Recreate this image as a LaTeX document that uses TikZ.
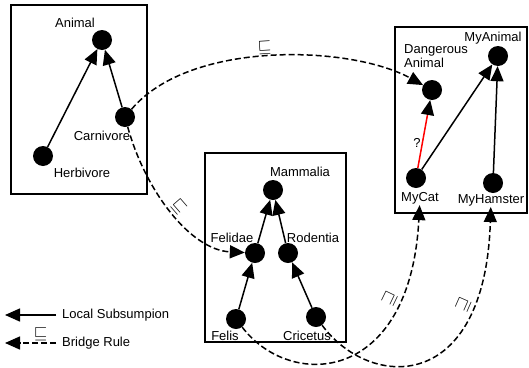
\documentclass[tikz,border=0pt]{standalone}
\usepackage{fontspec}
\setmainfont{Liberation Sans}
\usetikzlibrary{arrows.meta}
\begin{document}
\begin{tikzpicture}[x=1pt,y=-1pt,
  dot/.style={circle,fill=black,minimum size=20pt,inner sep=0pt},
  lbl/.style={inner sep=1pt,font=\fontsize{13}{13.5}\selectfont},
  sym/.style={inner sep=1.5pt,font=\fontsize{16}{16}\selectfont},
  sub/.style={line width=1.5pt,-{Triangle[length=15pt,width=13pt]}},
  bridge/.style={line width=1.5pt,dash pattern=on 6pt off 3pt,-{Triangle[length=15pt,width=13pt]}},
  boxframe/.style={draw,line width=2pt}]
\useasboundingbox (0,0) rectangle (529,367);
% boxes
\draw[boxframe] (11,5) rectangle (147,194);
\draw[boxframe] (205,153) rectangle (346,342);
\draw[boxframe] (395,27) rectangle (527,213);
% box 1
\node[dot] (animal) at (102,40) {};
\node[lbl] (animall) at (75,23) {Animal};
\node[dot] (carn) at (125,117) {};
\node[lbl] (carnl) at (102,136) {Carnivore};
\node[dot] (herb) at (43,156) {};
\node[lbl] (herbl) at (82,173) {Herbivore};
% box 2
\node[dot] (mamm) at (273,190) {};
\node[lbl] (mamml) at (300,172) {Mammalia};
\node[dot] (feli) at (255,253) {};
\node[lbl] (felil) at (232,238) {Felidae};
\node[dot] (rode) at (288,253) {};
\node[lbl] (rodel) at (313,238) {Rodentia};
\node[dot] (felis) at (236,319) {};
\node[lbl] (felisl) at (225,336) {Felis};
\node[dot] (cric) at (316,317) {};
\node[lbl] (cricl) at (307,336) {Cricetus};
% box 3
\node[dot] (dang) at (432,90) {};
\node[lbl,align=left] (dangl) at (436,56) {Dangerous\\Animal};
\node[dot] (myan) at (498,56) {};
\node[lbl] (myanl) at (493,38) {MyAnimal};
\node[dot] (mycat) at (416,178) {};
\node[lbl] (mycatl) at (420,198) {MyCat};
\node[dot] (myham) at (493,183) {};
\node[lbl] (myhaml) at (491,200) {MyHamster};
% local subsumptions
\draw[sub] (herb) -- (animal);
\draw[sub] (carn) -- (animal);
\draw[sub] (feli) -- (mamm);
\draw[sub] (rode) -- (mamm);
\draw[sub] (felis) -- (feli);
\draw[sub] (cric) -- (rode);
\draw[sub] (mycat) -- (myan);
\draw[sub] (myham) -- (myan);
\draw[sub,red,-{Triangle[length=15pt,width=13pt,color=black]}] (mycat) -- (dang);
\node[lbl] (q) at (417,143) {?};
% bridge rules
\draw[bridge] (carn) .. controls (190,40) and (350,45) .. (dang)
  node[sym,pos=0.48,sloped,above] (b1) {$\sqsubseteq$};
\draw[bridge] (carn) .. controls (145,190) and (190,250) .. (feli)
  node[sym,pos=0.5,sloped,above] (b2) {$\sqsubseteq$};
\draw[bridge] (felis) .. controls (290,390) and (410,385) .. (mycatl)
  node[sym,pos=0.77,sloped,above] (b3) {$\sqsupseteq$};
\draw[bridge] (cric) .. controls (370,390) and (485,395) .. (myhaml)
  node[sym,pos=0.77,sloped,above] (b4) {$\sqsupseteq$};
% legend
\coordinate (la) at (56,315);
\coordinate (lb) at (5,315);
\draw[sub] (la) -- (lb);
\node[lbl,anchor=west] (ll) at (61,315) {Local Subsumpion};
\coordinate (lc) at (56,343);
\coordinate (ld) at (5,343);
\draw[bridge] (lc) -- (ld) node[sym,pos=0.3,above] (lsym) {$\sqsubseteq$};
\node[lbl,anchor=west] (bl) at (61,343) {Bridge Rule};
\end{tikzpicture}
\end{document}
